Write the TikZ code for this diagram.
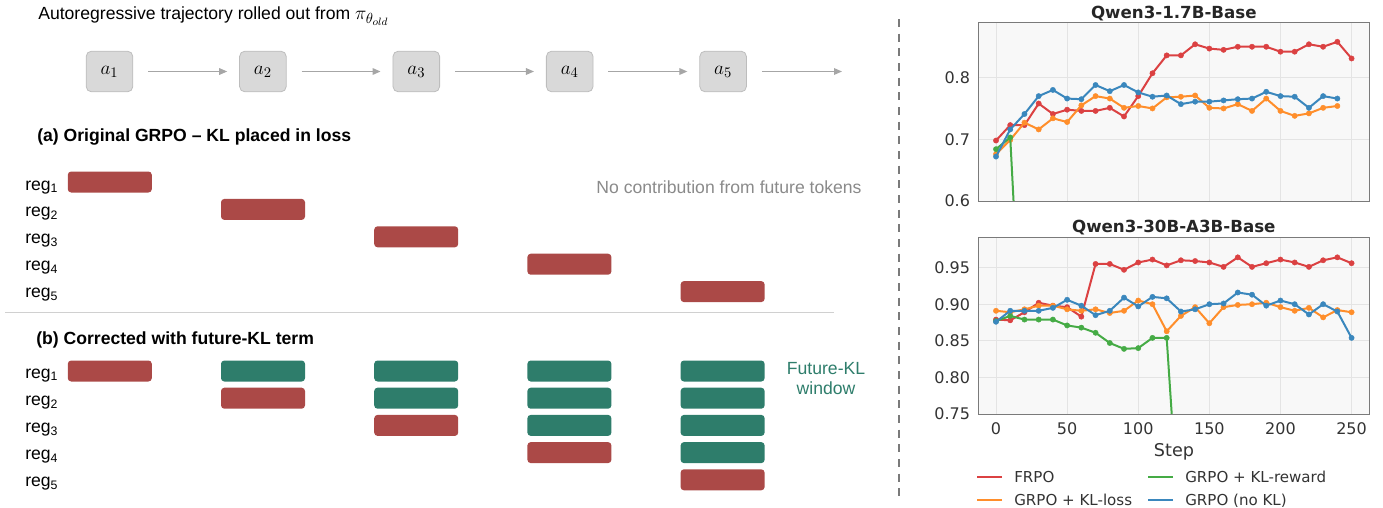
\documentclass[tikz,border=0pt]{standalone}
\usepackage{fontspec}
\setmainfont{Liberation Sans}
\newfontfamily\plotfont{DejaVu Sans}
\usetikzlibrary{arrows.meta}

\definecolor{tokfill}{HTML}{D9D9D9}
\definecolor{tokline}{HTML}{BDBDBD}
\definecolor{flowgray}{HTML}{A6A6A6}
\definecolor{klred}{HTML}{AB4947}
\definecolor{klgreen}{HTML}{2E7D6B}
\definecolor{notegray}{HTML}{8A8A8A}
\definecolor{plotbg}{HTML}{F8F8F8}
\definecolor{gridgray}{HTML}{E4E4E4}
\definecolor{framegray}{HTML}{7A7A7A}
\definecolor{tickgray}{HTML}{333333}
\definecolor{cfrpo}{HTML}{D62728}
\definecolor{closs}{HTML}{FF7F0E}
\definecolor{creward}{HTML}{2CA02C}
\definecolor{cnokl}{HTML}{1F77B4}

\newcommand\txt{\fontsize{13.2}{15}\selectfont}

\begin{document}
\begin{tikzpicture}[x=0.75pt,y=-0.75pt,
	tok/.style={draw=tokline,fill=tokfill,line width=0.6pt,rounded corners=4pt,minimum width=35pt,minimum height=30.5pt,inner sep=0pt,font=\fontsize{15}{17}\selectfont},
	flow/.style={draw=flowgray,line width=0.9pt,-{Triangle[length=6pt,width=5pt]},shorten <=11.25pt},
	kbar/.style={rounded corners=2.5pt,minimum width=63pt,minimum height=15.75pt,inner sep=0pt},
	klloss/.style={kbar,fill=klred},
	klfut/.style={kbar,fill=klgreen},
	reglab/.style={anchor=base west,inner sep=0pt,font=\txt},
	grid/.style={draw=gridgray,line width=0.6pt},
	frame/.style={draw=framegray,line width=0.75pt},
	ytick/.style={anchor=east,inner xsep=6pt,inner ysep=0pt,text=tickgray,font=\plotfont\fontsize{12}{14}\selectfont},
	xtick/.style={anchor=north,inner ysep=6pt,inner xsep=0pt,text=tickgray,font=\plotfont\fontsize{12}{14}\selectfont},
	ptitle/.style={anchor=base,yshift=3.5pt,inner sep=0pt,text=black!85,font=\plotfont\bfseries\fontsize{12.5}{14}\selectfont},
	run/.style={line width=1.5pt,mark=*,mark size=2pt,mark options={line width=0.3pt}}]

	\useasboundingbox (0,0) rectangle (1383,507);

	\node[anchor=base west,inner sep=0pt,font=\txt] (head) at (38,19.5) {Autoregressive trajectory rolled out from {\fontsize{15.5}{17}\selectfont$\pi_{\theta_{old}}$}};

	\foreach \i in {1,...,5}
		\node[tok] (a\i) at ({109.5+153.4*(\i-1)},71.5) {$a_\i$};
	\coordinate (tail) at (842,71.5);
	\foreach \i/\j in {1/2,2/3,3/4,4/5}
		\draw[flow,shorten >=9pt] (a\i) -- (a\j);
	\draw[flow] (a5) -- (tail);

	% (a) loss-only KL
	\node[anchor=base west,inner sep=0pt,font=\txt\bfseries] (ta) at (37,141) {(a) Original GRPO -- KL placed in loss};
	\foreach \i in {1,...,5} {
		\node[reglab] (ra\i) at (25,{190+26.9*(\i-1)}) {reg\textsubscript{\i}};
		\node[klloss] (la\i) at ({109.8+153.2*(\i-1)},{182+27.4*(\i-1)}) {};
	}
	\node[text=notegray,font=\txt] (none) at (729,187) {No contribution from future tokens};

	\draw[gridgray!80!gray,line width=1.1pt] (5,312.5) -- (834,312.5);

	% (b) future-KL
	\node[anchor=base west,inner sep=0pt,font=\txt\bfseries] (tb) at (36,344) {(b) Corrected with future-KL term};
	\foreach \i in {1,...,5}
		\node[reglab] (rb\i) at (25,{378+27.2*(\i-1)}) {reg\textsubscript{\i}};
	\foreach \j in {1,...,5} {
		\foreach \i in {1,...,\j} {
			\ifnum\i=\j
				\node[klloss] (lb\j-\i) at ({109.8+153.2*(\j-1)},{371+27.2*(\i-1)}) {};
			\else
				\node[klfut] (lb\j-\i) at ({109.8+153.2*(\j-1)},{371+27.2*(\i-1)}) {};
			\fi
		}
	}
	\node[text=klgreen,align=center,font=\fontsize{13.2}{15}\selectfont] (win) at (826,379) {Future-KL\\window};

	\draw[framegray,line width=1.5pt,dash pattern=on 6pt off 5pt] (899,19) -- (899,500);

	% Qwen3-1.7B-Base
	\begin{scope}[shift={(996,571.2)},x=1.0667pt,y=462.75pt]
		\fill[plotbg] (-12.5,0.6) rectangle (262.5,0.8885);
		\foreach \s in {0,50,...,250}
			\draw[grid] (\s,0.6) -- (\s,0.8885);
		\foreach \v in {0.7,0.8}
			\draw[grid] (-12.5,\v) -- (262.5,\v);
		\foreach \v in {0.6,0.7,0.8}
			\node[ytick] at (-12.5,\v) {\v};
		\begin{scope}
			\clip (-12.5,0.6) rectangle (262.5,0.8885);
			\draw[run,color=cfrpo!88!white] plot coordinates {(0,0.698) (10,0.723) (20,0.723) (30,0.758) (40,0.741) (50,0.748) (60,0.746) (70,0.746) (80,0.751) (90,0.737) (100,0.770) (110,0.807) (120,0.836) (130,0.836) (140,0.854) (150,0.847) (160,0.845) (170,0.850) (180,0.850) (190,0.850) (200,0.842) (210,0.842) (220,0.854) (230,0.850) (240,0.858) (250,0.831)};
			\draw[run,color=closs!88!white] plot coordinates {(0,0.676) (10,0.699) (20,0.727) (30,0.716) (40,0.734) (50,0.728) (60,0.755) (70,0.770) (80,0.766) (90,0.751) (100,0.754) (110,0.750) (120,0.768) (130,0.769) (140,0.771) (150,0.751) (160,0.750) (170,0.757) (180,0.746) (190,0.766) (200,0.746) (210,0.738) (220,0.742) (230,0.751) (240,0.754)};
			\draw[run,color=creward!88!white] plot coordinates {(0,0.684) (10,0.703) (20,0.26)};
			\draw[run,color=cnokl!88!white] plot coordinates {(0,0.672) (10,0.716) (20,0.741) (30,0.770) (40,0.780) (50,0.766) (60,0.765) (70,0.788) (80,0.778) (90,0.788) (100,0.776) (110,0.769) (120,0.771) (130,0.757) (140,0.761) (150,0.761) (160,0.763) (170,0.765) (180,0.766) (190,0.777) (200,0.770) (210,0.769) (220,0.751) (230,0.770) (240,0.766)};
		\end{scope}
		\draw[frame] (-12.5,0.6) rectangle (262.5,0.8885);
		\node[ptitle] (t1) at (125,0.8885) {Qwen3-1.7B-Base};
	\end{scope}

	% Qwen3-30B-A3B-Base
	\begin{scope}[shift={(996,963)},x=1.0667pt,y=549pt]
		\fill[plotbg] (-12.5,0.75) rectangle (262.5,0.9914);
		\foreach \s in {0,50,...,250}
			\draw[grid] (\s,0.75) -- (\s,0.9914);
		\foreach \v in {0.80,0.85,0.90,0.95}
			\draw[grid] (-12.5,\v) -- (262.5,\v);
		\foreach \v in {0.75,0.80,0.85,0.90,0.95}
			\node[ytick] at (-12.5,\v) {\v};
		\foreach \s in {0,50,...,250}
			\node[xtick] at (\s,0.75) {\s};
		\begin{scope}
			\clip (-12.5,0.75) rectangle (262.5,0.9914);
			\draw[run,color=cfrpo!88!white] plot coordinates {(0,0.879) (10,0.878) (20,0.889) (30,0.902) (40,0.898) (50,0.896) (60,0.883) (70,0.955) (80,0.955) (90,0.947) (100,0.957) (110,0.961) (120,0.953) (130,0.960) (140,0.959) (150,0.957) (160,0.951) (170,0.964) (180,0.951) (190,0.956) (200,0.961) (210,0.957) (220,0.951) (230,0.960) (240,0.964) (250,0.956)};
			\draw[run,color=closs!88!white] plot coordinates {(0,0.891) (10,0.889) (20,0.893) (30,0.898) (40,0.898) (50,0.893) (60,0.891) (70,0.893) (80,0.888) (90,0.891) (100,0.905) (110,0.900) (120,0.863) (130,0.884) (140,0.896) (150,0.874) (160,0.896) (170,0.899) (180,0.900) (190,0.902) (200,0.896) (210,0.891) (220,0.895) (230,0.882) (240,0.892) (250,0.889)};
			\draw[run,color=creward!88!white] plot coordinates {(0,0.877) (10,0.884) (20,0.879) (30,0.879) (40,0.879) (50,0.871) (60,0.868) (70,0.861) (80,0.847) (90,0.839) (100,0.840) (110,0.854) (120,0.854) (130,0.56)};
			\draw[run,color=cnokl!88!white] plot coordinates {(0,0.876) (10,0.891) (20,0.891) (30,0.891) (40,0.895) (50,0.906) (60,0.898) (70,0.885) (80,0.891) (90,0.909) (100,0.897) (110,0.910) (120,0.908) (130,0.890) (140,0.893) (150,0.900) (160,0.901) (170,0.916) (180,0.913) (190,0.898) (200,0.905) (210,0.900) (220,0.886) (230,0.900) (240,0.890) (250,0.854)};
		\end{scope}
		\draw[frame] (-12.5,0.75) rectangle (262.5,0.9914);
		\node[ptitle] (t2) at (125,0.9914) {Qwen3-30B-A3B-Base};
	\end{scope}

	\node[text=tickgray,font=\plotfont\fontsize{13.2}{15}\selectfont] (step) at (1174,452) {Step};

	% legend
	\foreach \c/\t/\x/\y [count=\k] in {cfrpo/FRPO/1014/482.7,closs/GRPO + KL-loss/1014/505,creward/GRPO + KL-reward/1185/482.7,cnokl/GRPO (no KL)/1185/505} {
		\node[anchor=base west,inner sep=0pt,text=tickgray,font=\plotfont\fontsize{11.3}{13}\selectfont] (lg\k) at (\x,\y) {\t};
		\draw[color=\c!88!white,line width=1.5pt] ([xshift=-9pt,yshift=4pt]lg\k.base west) -- ([xshift=-27.75pt,yshift=4pt]lg\k.base west);
	}
\end{tikzpicture}
\end{document}
